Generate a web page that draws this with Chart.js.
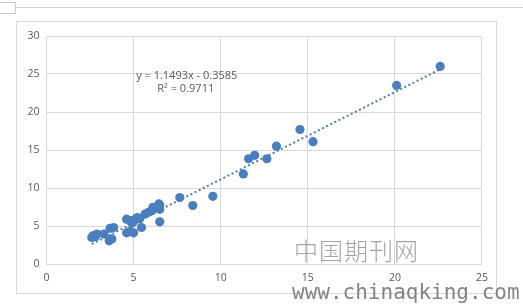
<!DOCTYPE html>
<html>
<head>
<meta charset="utf-8">
<script src="https://cdn.jsdelivr.net/npm/chart.js@4"></script>
<style>
  html, body { margin: 0; padding: 0; background: #fff; }
  body { width: 523px; height: 308px; position: relative; overflow: hidden; }
  .topline { position: absolute; left: 16px; top: 7px; width: 507px; height: 0; border-top: 1px solid #d4d4d4; }
  .tab { position: absolute; left: -1px; top: 2px; width: 16px; height: 10px; border: 1px solid #c8c8c8; border-left: none; }
  .frame { position: absolute; left: 16px; top: 21px; width: 479px; height: 271px; border: 1px solid #d9d9d9; }
  .frame canvas { position: absolute; left: 0; top: 0; }
  .wm1 { position: absolute; left: 294px; top: 232px; font-family: "Noto Sans CJK SC", sans-serif; font-weight: 300; font-size: 24px; letter-spacing: 1px; color: rgba(125,125,125,0.7); }
  .wm2 { position: absolute; left: 292px; top: 280px; font-family: "DejaVu Sans Mono", monospace; font-size: 21px; color: rgba(110,110,110,0.85); white-space: nowrap; }
</style>
</head>
<body>
<div class="topline"></div>
<div class="tab"></div>
<div class="frame"><canvas id="scatterChart" width="479" height="271"></canvas></div>
<div class="wm1">中国期刊网</div>
<div class="wm2">www.chinaqking.com</div>
<script>
const xValues = [2.6, 2.7, 2.9, 2.8, 3.3, 3.6, 3.75, 3.65, 3.85, 4.6, 4.8, 5.0, 5.45, 4.6,
  4.8, 4.9, 5.1, 5.35, 5.0, 5.2, 5.65, 5.85, 6.05, 6.1, 6.5, 6.5, 6.5, 6.45, 7.65, 8.4,
  9.55, 11.3, 11.6, 11.95, 12.65, 13.2, 14.55, 15.3, 20.1, 22.6];
const yValues = [3.5, 3.75, 3.95, 3.6, 3.95, 3.05, 3.3, 4.7, 4.8, 4.1, 4.3, 4.1, 4.8, 5.9,
  5.7, 5.4, 5.9, 5.95, 5.6, 6.1, 6.55, 6.8, 7.0, 7.45, 7.75, 7.2, 5.55, 7.9, 8.75, 7.7,
  8.9, 11.85, 13.85, 14.3, 13.85, 15.5, 17.7, 16.1, 23.5, 26.0];

// trendline as printed on the chart
const slope = 1.1493;
const intercept = -0.3585;
const trendX = [2.6, 22.6];
const equationLines = ["y = 1.1493x - 0.3585", "R² = 0.9711"];

const blue = "#4a7ebf";
const grey = "#d9d9d9";
const labelColor = "#595959";

const points = xValues.map((x, i) => ({ x: x, y: yValues[i] }));
const trend = trendX.map((x) => ({ x: x, y: slope * x + intercept }));

const equationLabel = {
  id: "equationLabel",
  afterDraw(chart) {
    const { ctx, scales } = chart;
    ctx.save();
    ctx.fillStyle = labelColor;
    ctx.font = "11px 'Open Sans', sans-serif";
    ctx.textAlign = "center";
    ctx.textBaseline = "middle";
    const cx = scales.x.getPixelForValue(8.05);
    const cy = scales.y.getPixelForValue(24.75);
    ctx.fillText(equationLines[0], cx, cy);
    ctx.fillText(equationLines[1], cx - 1, cy + 13);
    ctx.restore();
  },
};

const ctx = document.getElementById("scatterChart").getContext("2d");

window.scatterChart = new Chart(ctx, {
  type: "scatter",
  data: {
    datasets: [
      {
        label: "data",
        data: points,
        backgroundColor: blue,
        borderColor: blue,
        pointRadius: 4.6,
        pointBorderWidth: 0,
        order: 1,
      },
      {
        label: "trend",
        type: "line",
        data: trend,
        borderColor: blue,
        borderWidth: 2,
        borderDash: [2, 2.6],
        borderCapStyle: "butt",
        pointRadius: 0,
        fill: false,
        order: 2,
      },
    ],
  },
  options: {
    responsive: false,
    animation: false,
    layout: {
      padding: { left: 0, right: 14, top: 14, bottom: 0 },
    },
    plugins: {
      legend: { display: false },
      tooltip: { enabled: false },
    },
    scales: {
      x: {
        type: "linear",
        min: 0,
        max: 25,
        afterFit: (axis) => { axis.height = 29; },
        grid: { color: grey, drawTicks: false },
        border: { color: grey },
        ticks: {
          stepSize: 5,
          padding: 8,
          color: labelColor,
          font: { family: "'Open Sans', sans-serif", size: 10.5 },
        },
      },
      y: {
        min: 0,
        max: 30,
        afterFit: (axis) => { axis.width = 29.5; },
        grid: { color: grey, drawTicks: false },
        border: { color: grey },
        ticks: {
          stepSize: 5,
          padding: 7,
          color: labelColor,
          font: { family: "'Open Sans', sans-serif", size: 10.5 },
        },
      },
    },
  },
  plugins: [equationLabel],
});
</script>
</body>
</html>
